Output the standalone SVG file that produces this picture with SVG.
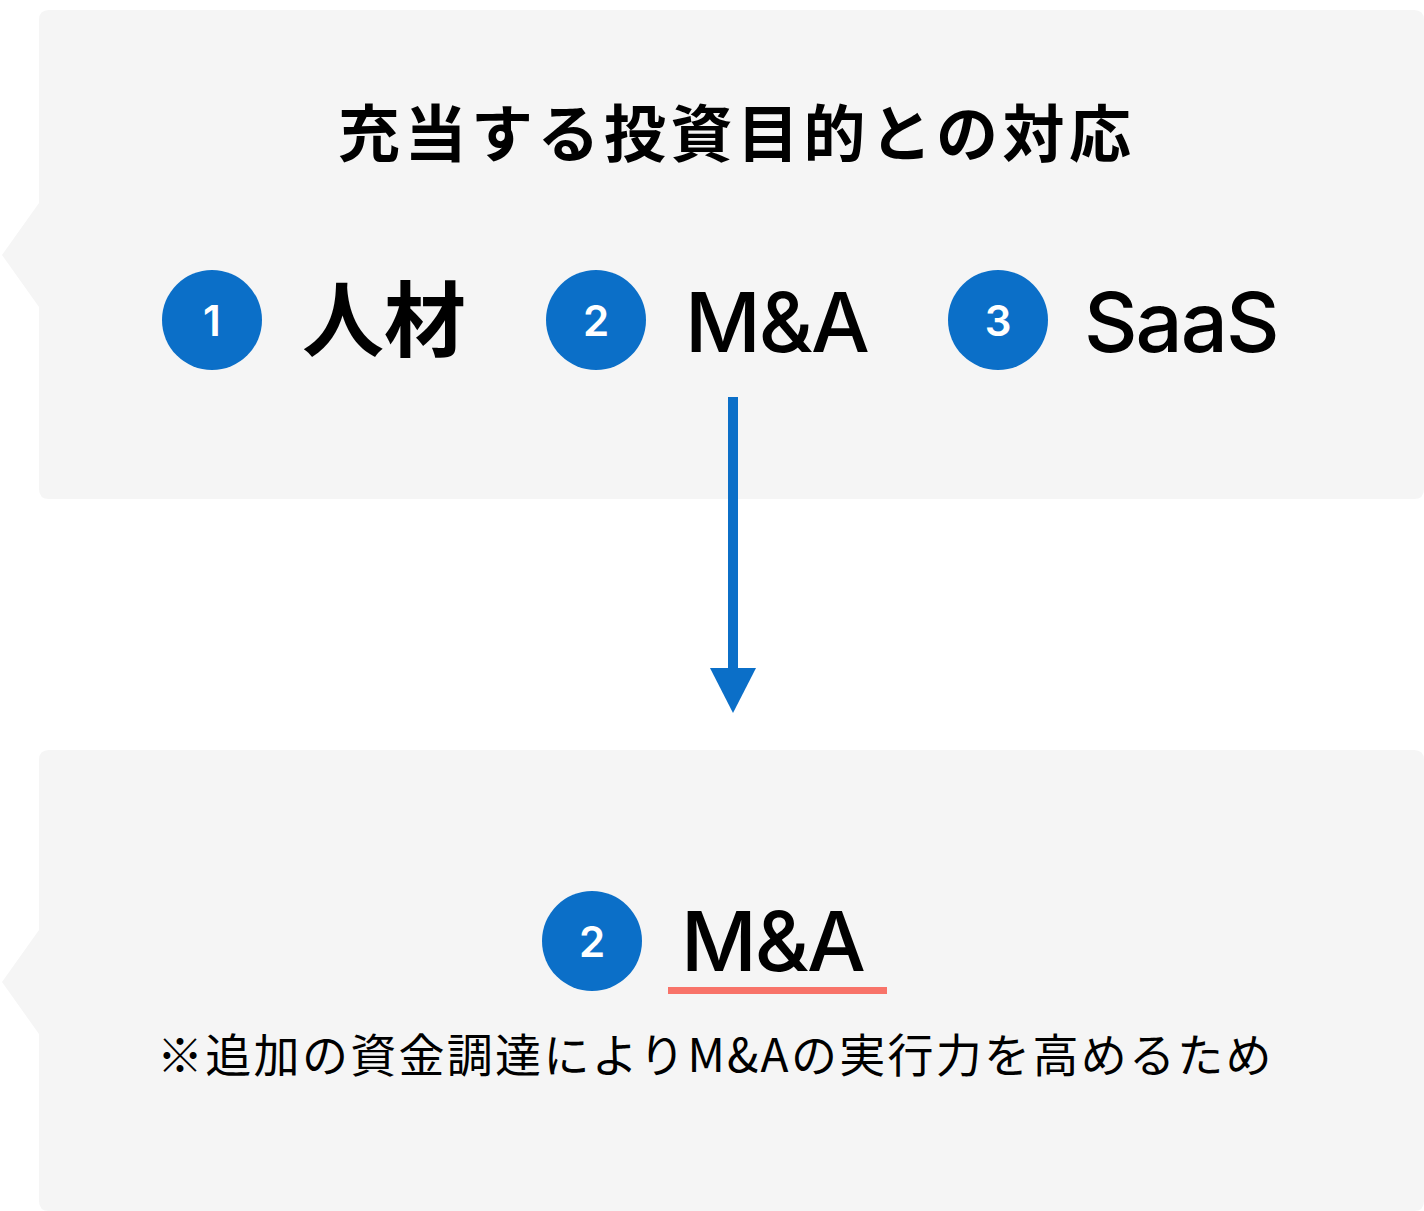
<svg xmlns="http://www.w3.org/2000/svg" width="1424" height="1211" viewBox="0 0 1424 1211">
<style>
.panel{fill:#F5F5F5}
.badge circle{fill:#0B6FC8}
.badge text{fill:#FFFFFF;font-family:Inter,"Noto Sans",sans-serif;font-weight:600;font-size:42px;text-anchor:middle}
.jp{font-family:"Noto Sans CJK JP",sans-serif;fill:#000}
.lat{font-family:Inter,"Noto Sans",sans-serif;font-weight:500;font-size:83px;letter-spacing:-2px;fill:#000}
</style>
<rect width="1424" height="1211" fill="#FFFFFF"/>
<g id="panel-top">
<path class="panel" d="M49,10 H1414 Q1424,10 1424,20 V489 Q1424,499 1414,499 H49 Q39,499 39,489 V307 L2,255 L39,203 V20 Q39,10 49,10 Z"/>
<text class="jp" x="338" y="157" font-size="62" font-weight="700" letter-spacing="4.5">充当する投資目的との対応</text>
</g>
<g id="item-1">
<g class="badge"><circle cx="212" cy="320" r="50"/><text x="212" y="336">1</text></g>
<text class="jp" x="302" y="350" font-size="82" font-weight="700">人材</text>
</g>
<g id="item-2">
<g class="badge"><circle cx="596" cy="320" r="50"/><text x="596" y="336">2</text></g>
<text class="lat" x="685" y="352">M&amp;A</text>
</g>
<g id="item-3">
<g class="badge"><circle cx="998" cy="320" r="50"/><text x="998" y="336">3</text></g>
<text class="lat" x="1084" y="352">SaaS</text>
</g>
<g id="connectors">
<rect x="728" y="397" width="10" height="273" fill="#0B6FC8"/>
<polygon points="710,668 756,668 733,713" fill="#0B6FC8"/>
</g>
<g id="panel-bottom">
<path class="panel" d="M49,750 H1414 Q1424,750 1424,760 V1201 Q1424,1211 1414,1211 H49 Q39,1211 39,1201 V1034 L2,982 L39,930 V760 Q39,750 49,750 Z"/>
<g class="badge"><circle cx="592" cy="941" r="50"/><text x="592" y="957">2</text></g>
<text class="lat" x="681" y="971">M&amp;A</text>
<rect x="668" y="987" width="219" height="7" fill="#F87369"/>
<text class="jp" x="157" y="1072" font-size="46" font-weight="400" letter-spacing="2.3">※追加の資金調達によりM&amp;Aの実行力を高めるため</text>
</g>
</svg>
